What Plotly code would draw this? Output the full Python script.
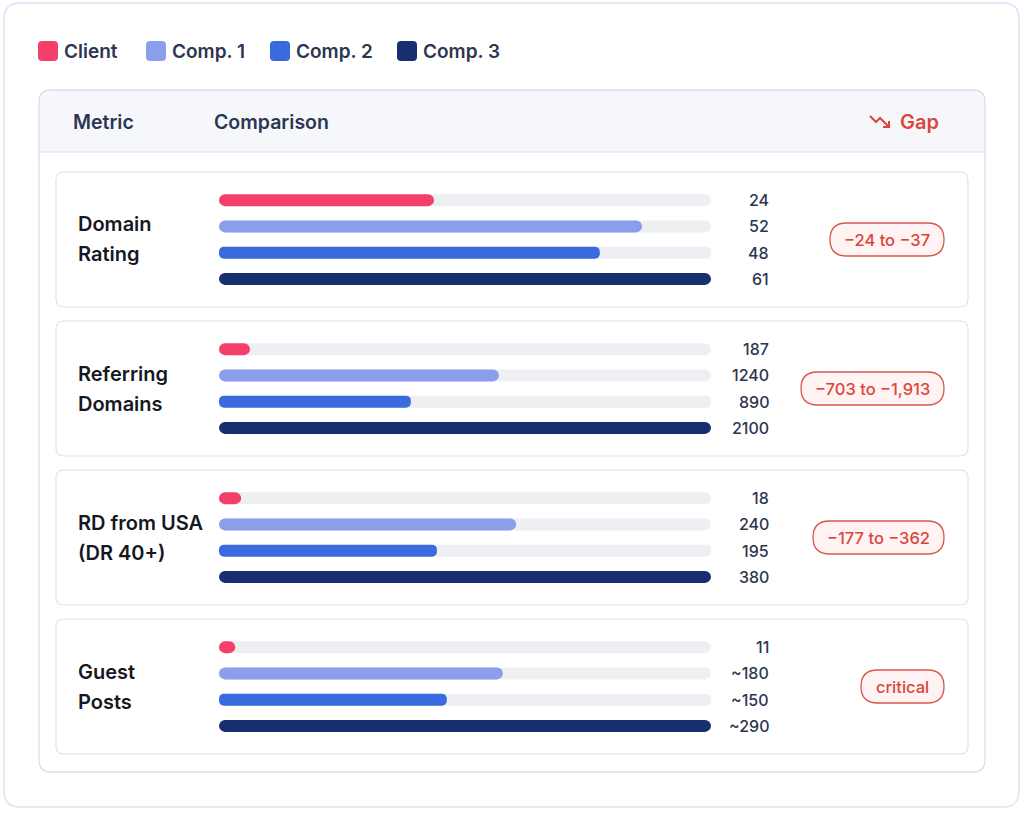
import plotly.graph_objects as go

W, H = 1024, 813

# ---- data ----
series = ["Client", "Comp. 1", "Comp. 2", "Comp. 3"]
series_colors = ["#f43f6b", "#8a9ee9", "#3a6ae0", "#172f6e"]

metric_lines = [
    ["Domain", "Rating"],
    ["Referring", "Domains"],
    ["RD from USA", "(DR 40+)"],
    ["Guest", "Posts"],
]
value_labels = [
    ["24", "52", "48", "61"],
    ["187", "1240", "890", "2100"],
    ["18", "240", "195", "380"],
    ["11", "~180", "~150", "~290"],
]
# bar fill, % of track (as drawn in the picture)
bar_pct = [
    [43.7, 86.0, 77.4, 100],
    [6.3, 56.9, 39.0, 100],
    [4.5, 60.4, 44.3, 100],
    [3.3, 57.7, 46.3, 100],
]
gaps = ["\u221224 to \u221237", "\u2212703 to \u22121,913", "\u2212177 to \u2212362", "critical"]

# ---- layout constants (pixels) ----
FONT = "Inter"
TXT = "#2d3650"
RED = "#d9473c"
BORDER = "#d9dff3"
legend_x = [38, 146, 270, 397]
badge_w = [114, 143, 131, 83]
row_top0, row_h, row_step = 172, 135, 149
track_x0, track_x1 = 219, 711
bar_step = 26.25


def fx(p):
    return p / W


def fy(p):
    return 1 - p / H


def rrect(x0, y0, x1, y1, r, top_only=False):
    rb = 0 if top_only else r
    pts = [
        f"M {fx(x0 + r)} {fy(y0)}",
        f"L {fx(x1 - r)} {fy(y0)}",
        f"Q {fx(x1)} {fy(y0)} {fx(x1)} {fy(y0 + r)}",
        f"L {fx(x1)} {fy(y1 - rb)}",
        f"Q {fx(x1)} {fy(y1)} {fx(x1 - rb)} {fy(y1)}",
        f"L {fx(x0 + rb)} {fy(y1)}",
        f"Q {fx(x0)} {fy(y1)} {fx(x0)} {fy(y1 - rb)}",
        f"L {fx(x0)} {fy(y0 + r)}",
        f"Q {fx(x0)} {fy(y0)} {fx(x0 + r)} {fy(y0)}",
        "Z",
    ]
    return " ".join(pts)


shapes = []
annots = []


def box(path, fill, line=None, lw=1.2):
    shapes.append(dict(type="path", xref="paper", yref="paper", path=path,
                       fillcolor=fill, layer="below",
                       line=dict(color=line or "rgba(0,0,0,0)", width=lw if line else 0)))


def text(x, y, s, size, color, anchor="left", weight=600, yref="paper"):
    annots.append(dict(x=x, y=y, xref="paper", yref=yref, text=s, showarrow=False,
                       xanchor=anchor, yanchor="middle", borderpad=0,
                       font=dict(family=FONT, size=size, color=color, weight=weight)))


# outer card
box(rrect(4, 3, 1019, 807, 16), "white", "#dde3f7", 1.5)

# legend
for i, name in enumerate(series):
    x = legend_x[i]
    box(rrect(x, 41, x + 20, 61, 4), series_colors[i])
    text(fx(x + 25), fy(51), name, 19, TXT)

# table container + header
box(rrect(39, 90, 985, 772, 12), "white")
box(rrect(39, 90, 985, 152, 12, top_only=True), "#f5f7fb")
shapes.append(dict(type="line", xref="paper", yref="paper", x0=fx(39), x1=fx(985),
                   y0=fy(152), y1=fy(152), line=dict(color=BORDER, width=1.2), layer="below"))
box(rrect(39, 90, 985, 772, 12), "rgba(0,0,0,0)", BORDER, 1.3)
text(fx(72), fy(122), "Metric", 19.5, TXT)
text(fx(213), fy(122), "Comparison", 19.5, TXT)
text(fx(899), fy(122), "Gap", 20, RED)
icon = (f"M {fx(870)} {fy(116)} L {fx(876)} {fy(122)} L {fx(880)} {fy(118)} L {fx(889)} {fy(127)} "
        f"M {fx(883)} {fy(127)} L {fx(889)} {fy(127)} L {fx(889)} {fy(121)}")
shapes.append(dict(type="path", xref="paper", yref="paper", path=icon,
                   line=dict(color=RED, width=2)))

fig = go.Figure()

for r in range(len(metric_lines)):
    top = row_top0 + r * row_step
    cy = top + row_h / 2
    box(rrect(56, top, 968, top + row_h, 8), "white", "#dde1ee", 1.2)

    # metric label
    for k, line in enumerate(metric_lines[r]):
        text(fx(77), fy(cy + (k - 0.5) * 30), line, 20, "#15181f")

    # gap badge
    bw = badge_w[r]
    box(rrect(944 - bw, cy - 16.5, 944, cy + 16.5, 16.5), "#fff4f3", "#d9574d", 1.3)
    text(fx(944 - bw / 2), fy(cy), gaps[r], 16.5, RED, anchor="center", weight=500)

    ax = "" if r == 0 else str(r + 1)
    half = 2 * bar_step
    fig.layout[f"yaxis{ax}"] = dict(
        domain=[fy(cy + half), fy(cy - half)], type="category",
        categoryorder="array", categoryarray=series, range=[3.5, -0.5],
        visible=False, fixedrange=True)
    fig.layout[f"xaxis{ax}"] = dict(
        domain=[fx(track_x0), fx(track_x1)], range=[0, 100], visible=False,
        anchor=f"y{ax}", fixedrange=True)

    # grey track, then the coloured fill on top (explicit base -> both ends rounded)
    for vals, colors in ([[100] * 4, ["#eeeff3"] * 4], [bar_pct[r], series_colors]):
        fig.add_trace(go.Bar(
            y=series, x=vals, base=[0] * 4, orientation="h", width=12 / bar_step,
            marker=dict(color=colors, cornerradius=6, line=dict(width=0)),
            xaxis=f"x{ax}", yaxis=f"y{ax}", showlegend=False, hoverinfo="skip"))

    # value labels
    for i, s in enumerate(series):
        annots.append(dict(x=fx(770), y=s, xref="paper", yref=f"y{ax}",
                           text=value_labels[r][i], showarrow=False,
                           xanchor="right", yanchor="middle", borderpad=0,
                           font=dict(family=FONT, size=16, color=TXT, weight=500)))

fig.update_layout(
    width=W, height=H, margin=dict(l=0, r=0, t=0, b=0),
    paper_bgcolor="white", plot_bgcolor="rgba(0,0,0,0)",
    barmode="overlay", showlegend=False,
    shapes=shapes, annotations=annots,
    font=dict(family=FONT),
)

fig.write_html("out.html", config={"displayModeBar": False},
               post_script="document.body.style.margin='0';")
